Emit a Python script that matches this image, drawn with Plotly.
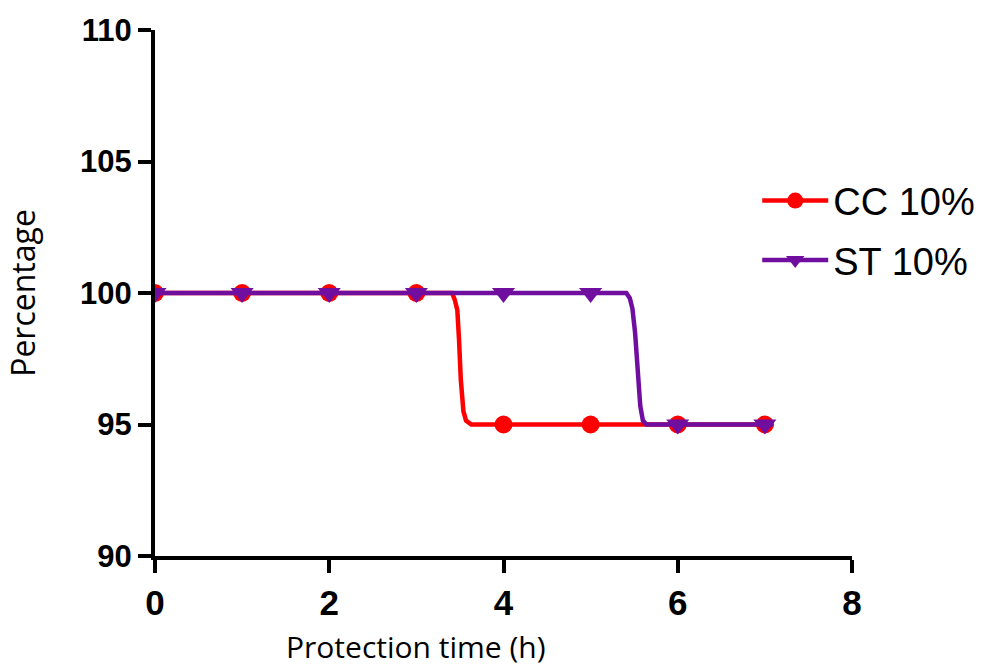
import plotly.graph_objects as go

# Measured data points
time_h = [0, 1, 2, 3, 4, 5, 6, 7]
cc_pct = [100, 100, 100, 100, 95, 95, 95, 95]
st_pct = [100, 100, 100, 100, 100, 100, 95, 95]

# Fitted (smoothed) curves
cc_fit_x = [0, 3.41, 3.44, 3.47, 3.49, 3.51, 3.54, 3.57, 3.63, 7]
cc_fit_y = [100, 100, 99.75, 99.35, 98.2, 96.7, 95.5, 95.15, 95, 95]
st_fit_x = [0, 5.41, 5.45, 5.48, 5.51, 5.54, 5.57, 5.60, 5.64, 7.1]
st_fit_y = [100, 100, 99.8, 99.4, 98.5, 97.2, 95.7, 95.15, 95, 95]

series_names = ["CC 10%", "ST 10%"]

RED = "#FF0000"
PURPLE = "#700EA0"

fig = go.Figure()

fig.add_trace(go.Scatter(x=cc_fit_x, y=cc_fit_y, mode="lines",
                         line=dict(color=RED, width=4.5), showlegend=False, hoverinfo="skip"))
fig.add_trace(go.Scatter(x=time_h, y=cc_pct, mode="markers",
                         marker=dict(symbol="circle", size=18, color=RED), showlegend=False))
fig.add_trace(go.Scatter(x=st_fit_x, y=st_fit_y, mode="lines",
                         line=dict(color=PURPLE, width=4.5), showlegend=False, hoverinfo="skip"))
fig.add_trace(go.Scatter(x=time_h, y=st_pct, mode="markers",
                         marker=dict(symbol="triangle-down", size=20, color=PURPLE), showlegend=False))

# legend entries
fig.add_trace(go.Scatter(x=[None], y=[None], mode="lines+markers", name=series_names[0],
                         legendgroup="a",
                         line=dict(color=RED, width=4.5),
                         marker=dict(symbol="circle", size=18, color=RED)))
fig.add_trace(go.Scatter(x=[None], y=[None], mode="lines+markers", name=series_names[1],
                         legendgroup="b",
                         line=dict(color=PURPLE, width=4.5),
                         marker=dict(symbol="triangle-down", size=20, color=PURPLE)))

fig.update_layout(
    width=982, height=666,
    margin=dict(l=155, r=130, t=30, b=110, autoexpand=False),
    plot_bgcolor="white", paper_bgcolor="white",
    showlegend=True,
    legend=dict(x=0.864, y=0.735, xanchor="left", yanchor="top",
                font=dict(family="Liberation Sans", size=38, color="black"),
                traceorder="grouped", tracegroupgap=7, itemwidth=66,
                bgcolor="rgba(0,0,0,0)"),
    annotations=[dict(text="Protection time (h)", x=3.0, y=-0.172, xref="x", yref="paper",
                      xanchor="center", yanchor="middle", showarrow=False,
                      font=dict(family="Open Sans", size=30, color="black"))],
)

fig.update_xaxes(range=[0, 8], tickvals=[0, 2, 4, 6, 8],
                 showline=True, linecolor="black", linewidth=4,
                 ticks="outside", ticklen=13, tickwidth=4, tickcolor="black",
                 ticklabelstandoff=0,
                 showgrid=False, zeroline=False,
                 tickfont=dict(family="Liberation Sans", size=35, color="black", weight="bold"))
fig.update_yaxes(range=[90, 110], tickvals=[90, 95, 100, 105, 110],
                 showline=True, linecolor="black", linewidth=4,
                 ticks="outside", ticklen=13, tickwidth=4, tickcolor="black",
                 showgrid=False, zeroline=False,
                 title=dict(text="Percentage", standoff=36,
                            font=dict(family="Open Sans", size=32, color="black")),
                 tickfont=dict(family="Liberation Sans", size=31, color="black", weight="bold"))

fig.write_html("out.html")
